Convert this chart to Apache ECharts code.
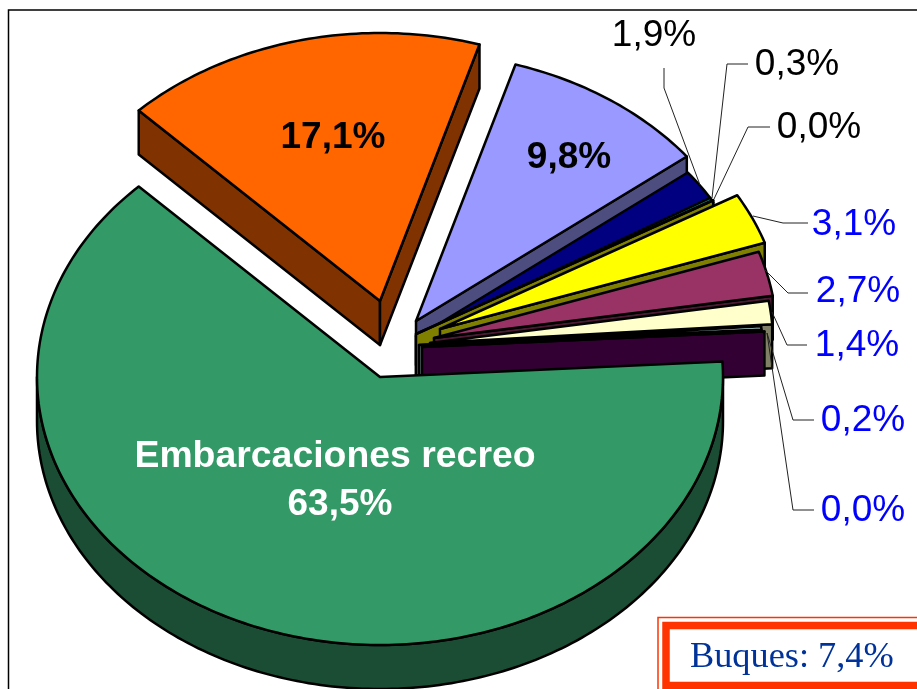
<!DOCTYPE html>
<html>
<head>
<meta charset="utf-8">
<style>
html,body{margin:0;padding:0;background:#fff}
#chart{width:917px;height:689px}
</style>
<script src="https://cdn.jsdelivr.net/npm/echarts@6/dist/echarts.min.js"></script>
</head>
<body>
<div id="chart"></div>
<script>
// back to front, clockwise from the orange slice
let sliceNames = ["Pesca","Mercantes","Otros 1","Otros 2","Otros 3","Otros 4","Otros 5","Otros 6","Otros 7","Otros 8","Embarcaciones recreo"]
let sliceValues = [17.1,9.8,1.9,0.3,0.0,3.1,2.7,1.4,0.2,0.0,63.5]
let topColors = ["#FF6600","#9999FF","#000080","#008080","#FFFF00","#FFFF00","#993366","#FFFFCC","#CCFFFF","#660066","#339966"]
let wallColors = ["#803300","#4D4D80","#000040","#004040","#808000","#808000","#4D1A33","#808066","#668080","#330033","#1A4D33"]
let buquesShare = 7.4

// layout of the drawing, not data
let pieX = 380, pieY = 377, rx = 343, ry = 268, depth = 44, startAngle = 134.7
let offsets = [[0,-76],[36,-56],[37,-40],[36,-41],[36,-43],[60,-48],[54,-39],[50,-34],[39,-32],[42,-30],[0,0]]
let labelSpots = [
    [333,138,"#000","bold"],[569,158,"#000","bold"],[654,36,"#000","normal"],[797,65,"#000","normal"],
    [819,128,"#000","normal"],[854,225,"#00F","normal"],[858,292,"#00F","normal"],[857,346,"#00F","normal"],
    [863,421,"#00F","normal"],[863,511,"#00F","normal"],[340,505,"#FFF","bold"]
]
let leaders = [
    null,null,
    [[664,68],[664,88],[700,185]],
    [[748,64],[727,64],[712,198]],
    [[770,127],[748,127],[714,199]],
    [[753,216],[783,223],[808,223]],
    [[765,270],[788,293],[808,293]],
    [[772,312],[787,345],[807,345]],
    [[767,333],[793,420],[814,420]],
    [[767,333],[793,510],[814,510]],
    null
]

function fmt(v){
    return v.toFixed(1).replace(".",",")+"%"
}

function rimPoint(cx,cy,deg){
    let a = deg*Math.PI/180
    return [cx+rx*Math.cos(a),cy-ry*Math.sin(a)]
}

function arcPoints(cx,cy,from,to){
    let pts = []
    let steps = Math.max(1,Math.ceil(Math.abs(from-to)))
    for(let s=0;s<=steps;s++){
        pts.push(rimPoint(cx,cy,from+(to-from)*s/steps))
    }
    return pts
}

function face(points,fill){
    return {
        type:"polygon",
        shape:{points:points},
        style:{fill:fill,stroke:"#000",lineWidth:2.5,lineJoin:"round"}
    }
}

function drawSlice(params,api){
    let i = params.dataIndex
    let before = 0
    for(let k=0;k<i;k++){
        before+=sliceValues[k]
    }
    let a0 = startAngle-before*3.6
    let a1 = a0-api.value(0)*3.6
    let cx = pieX+offsets[i][0]
    let cy = pieY+offsets[i][1]
    let down = function(p){ return [p[0],p[1]+depth] }
    let wall = wallColors[i]
    let arc = arcPoints(cx,cy,a0,a1)
    let children = []

    // only the walls that face the viewer
    if(Math.cos(a0*Math.PI/180)<0){
        let p = arc[0]
        children.push(face([[cx,cy],p,down(p),[cx,cy+depth]],wall))
    }
    if(Math.cos(a1*Math.PI/180)>0){
        let p = arc[arc.length-1]
        children.push(face([[cx,cy],p,down(p),[cx,cy+depth]],wall))
    }
    if(a1<0){
        let front = arcPoints(cx,cy,Math.min(a0,0),Math.max(a1,-180))
        children.push(face(front.concat(front.map(down).reverse()),wall))
    }
    children.push(face([[cx,cy]].concat(arc),topColors[i]))

    return {type:"group",children:children}
}

let graphics = []
graphics.push({
    type:"rect",z:1,
    shape:{x:8.5,y:10,width:1000,height:1000},
    style:{fill:"none",stroke:"#000",lineWidth:1.5}
})
leaders.forEach(function(pts){
    if(pts){
        graphics.push({
            type:"polyline",z:10,
            shape:{points:pts},
            style:{fill:"none",stroke:"#222",lineWidth:1}
        })
    }
})
sliceValues.forEach(function(v,i){
    graphics.push({
        type:"text",z:11,
        style:{
            x:labelSpots[i][0],y:labelSpots[i][1],text:fmt(v),
            fill:labelSpots[i][2],fontWeight:labelSpots[i][3],
            fontSize:37,fontFamily:"Liberation Sans",
            align:"center",verticalAlign:"middle"
        }
    })
})
graphics.push({
    type:"text",z:11,
    style:{
        x:335,y:457,text:sliceNames[10],fill:"#FFF",fontWeight:"bold",
        fontSize:37.4,fontFamily:"Liberation Sans",align:"center",verticalAlign:"middle"
    }
})
// Buques box
graphics.push({
    type:"rect",z:12,
    shape:{x:658,y:617.5,width:400,height:200},
    style:{fill:"#fff",stroke:"#FF3300",lineWidth:1.5}
})
graphics.push({
    type:"rect",z:12,
    shape:{x:666,y:625.5,width:400,height:60},
    style:{fill:"#fff",stroke:"#FF3300",lineWidth:7.5}
})
graphics.push({
    type:"text",z:13,
    style:{
        x:690,y:657,text:"Buques: "+fmt(buquesShare),fill:"#003399",
        fontSize:36.3,fontFamily:"Liberation Serif",align:"left",verticalAlign:"middle"
    }
})

let myChart = echarts.init(document.getElementById("chart"),null,{renderer:"canvas"})
myChart.setOption({
    backgroundColor:"#fff",
    animation:false,
    graphic:{elements:graphics},
    series:[{
        type:"custom",
        coordinateSystem:"none",
        renderItem:drawSlice,
        silent:true,
        z:5,
        data:sliceValues.map(function(v,i){
            return {name:sliceNames[i],value:[v]}
        })
    }]
})
</script>
</body>
</html>
